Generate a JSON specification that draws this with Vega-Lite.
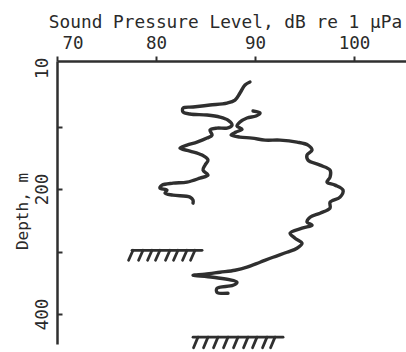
{
  "$schema": "https://vega.github.io/schema/vega-lite/v6.json",
  "width": 349,
  "height": 283,
  "autosize": {"type": "none"},
  "padding": {"left": 57, "top": 61, "right": 0, "bottom": 8},
  "background": "white",
  "config": {
    "view": {"stroke": null},
    "font": "DejaVu Sans Mono"
  },
  "layer": [
    {
      "data": {
        "values": [
          {"series": "A", "i": 1, "db": 89.49, "depth": 28.7},
          {"series": "A", "i": 2, "db": 88.99, "depth": 33.5},
          {"series": "A", "i": 3, "db": 88.48, "depth": 46.3},
          {"series": "A", "i": 4, "db": 87.98, "depth": 57.5},
          {"series": "A", "i": 5, "db": 87.17, "depth": 62.3},
          {"series": "A", "i": 6, "db": 85.45, "depth": 65.5},
          {"series": "A", "i": 7, "db": 83.74, "depth": 68.7},
          {"series": "A", "i": 8, "db": 82.73, "depth": 70.3},
          {"series": "A", "i": 9, "db": 82.73, "depth": 76.7},
          {"series": "A", "i": 10, "db": 83.43, "depth": 79.9},
          {"series": "A", "i": 11, "db": 85.15, "depth": 81.5},
          {"series": "A", "i": 12, "db": 86.46, "depth": 84.7},
          {"series": "A", "i": 13, "db": 87.27, "depth": 89.6},
          {"series": "A", "i": 14, "db": 87.68, "depth": 97.6},
          {"series": "A", "i": 15, "db": 87.17, "depth": 102.4},
          {"series": "A", "i": 16, "db": 86.16, "depth": 102.4},
          {"series": "A", "i": 17, "db": 85.45, "depth": 105.6},
          {"series": "A", "i": 18, "db": 85.66, "depth": 113.6},
          {"series": "A", "i": 19, "db": 85.15, "depth": 118.4},
          {"series": "A", "i": 20, "db": 84.14, "depth": 124.8},
          {"series": "A", "i": 21, "db": 83.13, "depth": 129.6},
          {"series": "A", "i": 22, "db": 82.42, "depth": 134.4},
          {"series": "A", "i": 23, "db": 83.43, "depth": 139.2},
          {"series": "A", "i": 24, "db": 84.65, "depth": 145.6},
          {"series": "A", "i": 25, "db": 85.25, "depth": 153.7},
          {"series": "A", "i": 26, "db": 84.95, "depth": 161.7},
          {"series": "A", "i": 27, "db": 84.75, "depth": 169.7},
          {"series": "A", "i": 28, "db": 85.25, "depth": 177.7},
          {"series": "A", "i": 29, "db": 84.44, "depth": 182.5},
          {"series": "A", "i": 30, "db": 83.13, "depth": 188.9},
          {"series": "A", "i": 31, "db": 81.72, "depth": 190.5},
          {"series": "A", "i": 32, "db": 80.61, "depth": 193.7},
          {"series": "A", "i": 33, "db": 80.40, "depth": 198.5},
          {"series": "A", "i": 34, "db": 81.11, "depth": 201.7},
          {"series": "A", "i": 35, "db": 80.91, "depth": 206.5},
          {"series": "A", "i": 36, "db": 81.72, "depth": 209.7},
          {"series": "A", "i": 37, "db": 83.43, "depth": 212.9},
          {"series": "A", "i": 38, "db": 83.74, "depth": 217.8},
          {"series": "A", "i": 39, "db": 83.74, "depth": 222.6},
          {"series": "B", "i": 1, "db": 89.80, "depth": 75.1},
          {"series": "B", "i": 2, "db": 90.51, "depth": 78.3},
          {"series": "B", "i": 3, "db": 90.10, "depth": 83.1},
          {"series": "B", "i": 4, "db": 89.19, "depth": 86.3},
          {"series": "B", "i": 5, "db": 88.48, "depth": 92.8},
          {"series": "B", "i": 6, "db": 88.18, "depth": 99.2},
          {"series": "B", "i": 7, "db": 88.69, "depth": 104.0},
          {"series": "B", "i": 8, "db": 88.08, "depth": 108.8},
          {"series": "B", "i": 9, "db": 87.58, "depth": 113.6},
          {"series": "B", "i": 10, "db": 88.48, "depth": 116.8},
          {"series": "B", "i": 11, "db": 89.70, "depth": 118.4},
          {"series": "B", "i": 12, "db": 91.01, "depth": 121.6},
          {"series": "B", "i": 13, "db": 92.53, "depth": 121.6},
          {"series": "B", "i": 14, "db": 94.24, "depth": 124.8},
          {"series": "B", "i": 15, "db": 95.35, "depth": 129.6},
          {"series": "B", "i": 16, "db": 95.76, "depth": 137.6},
          {"series": "B", "i": 17, "db": 95.25, "depth": 145.6},
          {"series": "B", "i": 18, "db": 95.35, "depth": 153.7},
          {"series": "B", "i": 19, "db": 96.57, "depth": 161.7},
          {"series": "B", "i": 20, "db": 97.58, "depth": 169.7},
          {"series": "B", "i": 21, "db": 97.58, "depth": 180.9},
          {"series": "B", "i": 22, "db": 97.27, "depth": 188.9},
          {"series": "B", "i": 23, "db": 98.08, "depth": 193.7},
          {"series": "B", "i": 24, "db": 98.89, "depth": 201.7},
          {"series": "B", "i": 25, "db": 98.59, "depth": 212.9},
          {"series": "B", "i": 26, "db": 97.58, "depth": 221.0},
          {"series": "B", "i": 27, "db": 97.58, "depth": 230.6},
          {"series": "B", "i": 28, "db": 96.57, "depth": 238.6},
          {"series": "B", "i": 29, "db": 95.56, "depth": 245.0},
          {"series": "B", "i": 30, "db": 95.25, "depth": 253.0},
          {"series": "B", "i": 31, "db": 95.76, "depth": 257.8},
          {"series": "B", "i": 32, "db": 94.75, "depth": 262.6},
          {"series": "B", "i": 33, "db": 93.54, "depth": 270.6},
          {"series": "B", "i": 34, "db": 94.04, "depth": 278.7},
          {"series": "B", "i": 35, "db": 94.75, "depth": 286.7},
          {"series": "B", "i": 36, "db": 94.24, "depth": 294.7},
          {"series": "B", "i": 37, "db": 93.23, "depth": 301.1},
          {"series": "B", "i": 38, "db": 91.82, "depth": 309.1},
          {"series": "B", "i": 39, "db": 90.51, "depth": 317.1},
          {"series": "B", "i": 40, "db": 89.19, "depth": 325.1},
          {"series": "B", "i": 41, "db": 87.98, "depth": 329.9},
          {"series": "B", "i": 42, "db": 86.46, "depth": 333.1},
          {"series": "B", "i": 43, "db": 84.95, "depth": 336.3},
          {"series": "B", "i": 44, "db": 83.74, "depth": 337.9},
          {"series": "B", "i": 45, "db": 85.76, "depth": 341.2},
          {"series": "B", "i": 46, "db": 88.18, "depth": 349.2},
          {"series": "B", "i": 47, "db": 87.78, "depth": 354.0},
          {"series": "B", "i": 48, "db": 86.16, "depth": 358.8},
          {"series": "B", "i": 49, "db": 86.16, "depth": 365.2},
          {"series": "B", "i": 50, "db": 87.27, "depth": 366.8}
        ]
      },
      "mark": {"type": "line", "interpolate": "catmull-rom", "strokeWidth": 3.4, "color": "#2f2f2f", "strokeCap": "round", "strokeJoin": "round"},
      "encoding": {
        "x": {
          "field": "db", "type": "quantitative",
          "scale": {"domain": [70, 105.25], "nice": false, "zero": false},
          "axis": {
            "orient": "top",
            "values": [70, 80, 90, 100],
            "format": "d",
            "grid": false,
            "title": "Sound Pressure Level, dB re 1 μPa",
            "titleFont": "DejaVu Sans Mono",
            "titleFontSize": 17.8,
            "titleFontWeight": "normal",
            "titleColor": "#2a2a2a",
            "titleAlign": "center",
            "titleBaseline": "alphabetic",
            "titleX": 168,
            "titleY": -34,
            "labelFont": "DejaVu Sans Mono",
            "labelFontSize": 17.5,
            "labelColor": "#2a2a2a",
            "labelBaseline": "alphabetic",
            "labelPadding": 8,
            "labelFlush": true,
            "labelFlushOffset": -5,
            "tickSize": 5,
            "tickWidth": 2,
            "tickColor": "#2f2f2f",
            "domainColor": "#2f2f2f",
            "domainWidth": 2.5
          }
        },
        "y": {
          "field": "depth", "type": "quantitative",
          "scale": {"domain": [-5, 448], "nice": false, "zero": false, "reverse": true},
          "axis": {
            "orient": "left",
            "values": [6, 100, 200, 300, 400],
            "labelExpr": "datum.value < 50 ? '10' : (datum.value % 200 == 0 ? datum.label : '')",
            "grid": false,
            "title": "Depth, m",
            "titleFont": "DejaVu Sans Mono",
            "titleFontSize": 16,
            "titleFontWeight": "normal",
            "titleColor": "#2a2a2a",
            "titleAngle": -90,
            "titleAlign": "center",
            "titleBaseline": "alphabetic",
            "titleX": -30,
            "titleY": 150,
            "labelFont": "DejaVu Sans Mono",
            "labelFontSize": 17.5,
            "labelColor": "#2a2a2a",
            "labelAngle": -90,
            "labelAlign": "center",
            "labelBaseline": "alphabetic",
            "labelPadding": 15,
            "labelFlush": false,
            "tickSize": -5,
            "tickWidth": 2,
            "tickColor": "#2f2f2f",
            "tickOpacity": {"condition": {"test": "datum.value < 50", "value": 0}, "value": 1},
            "domainColor": "#2f2f2f",
            "domainWidth": 2.5
          }
        },
        "detail": {"field": "series"},
        "order": {"field": "i", "type": "quantitative"}
      }
    },
    {
      "data": {
        "values": [
          {"part": "base", "x": 77.58, "x2": 84.65, "d": 298, "d2": 298},
          {"part": "hatch", "x": 77.68, "x2": 77.23, "d": 298, "d2": 314},
          {"part": "hatch", "x": 78.69, "x2": 78.24, "d": 298, "d2": 314},
          {"part": "hatch", "x": 79.60, "x2": 79.15, "d": 298, "d2": 314},
          {"part": "hatch", "x": 80.40, "x2": 79.95, "d": 298, "d2": 314},
          {"part": "hatch", "x": 81.41, "x2": 80.96, "d": 298, "d2": 314},
          {"part": "hatch", "x": 82.22, "x2": 81.77, "d": 298, "d2": 314},
          {"part": "hatch", "x": 83.13, "x2": 82.68, "d": 298, "d2": 314},
          {"part": "hatch", "x": 83.94, "x2": 83.49, "d": 298, "d2": 314},
          {"part": "base", "x": 83.74, "x2": 92.83, "d": 437, "d2": 437},
          {"part": "hatch", "x": 84.24, "x2": 83.79, "d": 437, "d2": 454},
          {"part": "hatch", "x": 85.25, "x2": 84.80, "d": 437, "d2": 454},
          {"part": "hatch", "x": 86.26, "x2": 85.81, "d": 437, "d2": 454},
          {"part": "hatch", "x": 87.27, "x2": 86.82, "d": 437, "d2": 454},
          {"part": "hatch", "x": 88.28, "x2": 87.83, "d": 437, "d2": 454},
          {"part": "hatch", "x": 89.29, "x2": 88.84, "d": 437, "d2": 454},
          {"part": "hatch", "x": 90.20, "x2": 89.75, "d": 437, "d2": 454},
          {"part": "hatch", "x": 91.21, "x2": 90.76, "d": 437, "d2": 454},
          {"part": "hatch", "x": 92.02, "x2": 91.57, "d": 437, "d2": 454}
        ]
      },
      "mark": {"type": "rule", "strokeWidth": 2.8, "color": "#2f2f2f", "strokeCap": "round"},
      "encoding": {
        "x": {"field": "x", "type": "quantitative"},
        "x2": {"field": "x2"},
        "y": {"field": "d", "type": "quantitative"},
        "y2": {"field": "d2"}
      }
    }
  ]
}
